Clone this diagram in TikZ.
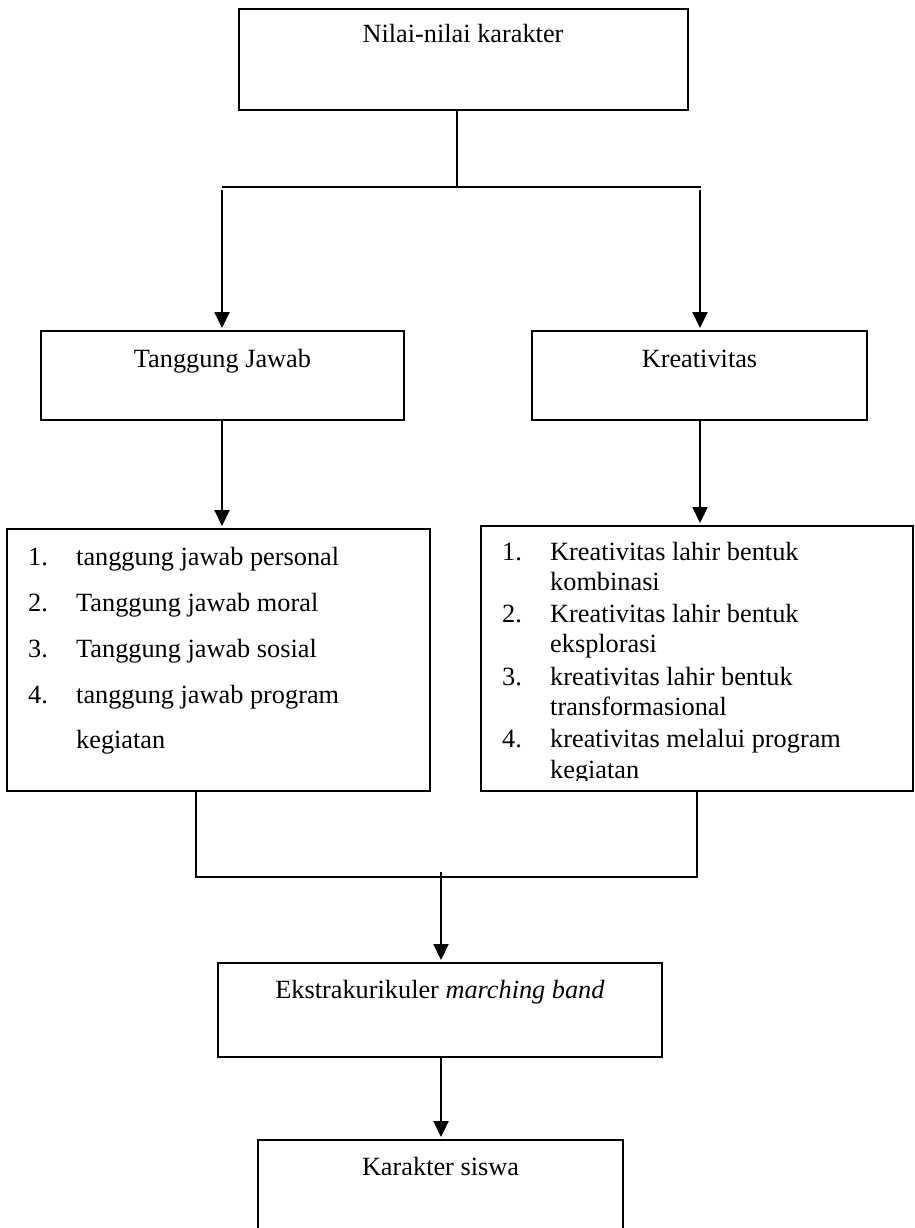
\documentclass[tikz,border=0pt]{standalone}
\usepackage{fontspec}
\setmainfont{Liberation Serif}
\usetikzlibrary{arrows.meta}
\begin{document}
\begin{tikzpicture}[x=1pt,y=-1pt,
  box/.style={draw,line width=2pt,inner sep=0pt,outer sep=0pt},
  txt/.style={inner sep=0pt,anchor=base,font=\fontsize{26.3}{30}\selectfont},
  ltxt/.style={txt,anchor=base west},
  conn/.style={line width=1.8pt},
  arr/.style={line width=2.2pt,-{Triangle[length=16pt,width=15pt]},shorten >=3pt}]
\useasboundingbox (0,0) rectangle (914,1228);
\fill[white] (0,0) rectangle (914,1228);

% boxes
\node[box,minimum width=449pt,minimum height=101pt] (top) at (463.5,59.5) {};
\node[box,minimum width=363pt,minimum height=89pt] (tj) at (222.5,375.5) {};
\node[box,minimum width=335pt,minimum height=89pt] (kr) at (699.5,375.5) {};
\node[box,minimum width=423pt,minimum height=262pt] (ll) at (218.5,660) {};
\node[box,minimum width=432pt,minimum height=265pt] (rl) at (697,658.5) {};
\node[box,minimum width=444pt,minimum height=94pt] (ek) at (440,1010) {};
\node[box,minimum width=365pt,minimum height=130pt] (ks) at (440.5,1205) {};

% box titles
\node[txt] (toptxt) at (463,43) {Nilai-nilai karakter};
\node[txt] (tjtxt) at (222.5,367) {Tanggung Jawab};
\node[txt] (krtxt) at (699.5,367) {Kreativitas};
\node[txt] (ektxt) at (440,998) {Ekstrakurikuler \textit{marching band}};
\node[txt] (kstxt) at (440.5,1175) {Karakter siswa};

% left list
\node[ltxt] (ln1) at (28,565) {1.};
\node[ltxt] (lt1) at (76,565) {tanggung jawab personal};
\node[ltxt] (ln2) at (28,611) {2.};
\node[ltxt] (lt2) at (76,611) {Tanggung jawab moral};
\node[ltxt] (ln3) at (28,657) {3.};
\node[ltxt] (lt3) at (76,657) {Tanggung jawab sosial};
\node[ltxt] (ln4) at (28,703) {4.};
\node[ltxt] (lt4) at (76,703) {tanggung jawab program};
\node[ltxt] (lt4b) at (76,748) {kegiatan};

% right list (last line clipped by the box)
\begin{scope}
\clip (481,520) rectangle (913,780);
\node[ltxt] (rn1) at (502,560) {1.};
\node[ltxt] (rt1) at (550,560) {Kreativitas lahir bentuk};
\node[ltxt] (rt1b) at (550,590) {kombinasi};
\node[ltxt] (rn2) at (502,622) {2.};
\node[ltxt] (rt2) at (550,622) {Kreativitas lahir bentuk};
\node[ltxt] (rt2b) at (550,652) {eksplorasi};
\node[ltxt] (rn3) at (502,685) {3.};
\node[ltxt] (rt3) at (550,685) {kreativitas lahir bentuk};
\node[ltxt] (rt3b) at (550,715) {transformasional};
\node[ltxt] (rn4) at (502,747) {4.};
\node[ltxt] (rt4) at (550,747) {kreativitas melalui program};
\node[ltxt] (rt4b) at (550,778) {kegiatan};
\end{scope}

% connectors
\coordinate (j1) at (457,187);
\coordinate (hl) at (222,187);
\coordinate (hr) at (701,187);
\coordinate (al) at (222,190);
\coordinate (ar) at (700,190);
\draw[conn] (top.south -| j1) -- (j1);
\draw[conn] (hl) -- (hr);
\draw[arr] (al) -- (al |- tj.north);
\draw[arr] (ar) -- (ar |- kr.north);
\draw[arr] (tj.south -| al) -- (al |- ll.north);
\draw[arr] (kr.south -| ar) -- (ar |- rl.north);

\coordinate (bl) at (196,877);
\coordinate (br) at (697,877);
\draw[conn] (ll.south -| bl) -- (bl) -- (br) -- (rl.south -| br);
\coordinate (bm) at (441,872);
\draw[arr] (bm) -- (bm |- ek.north);
\draw[arr] (ek.south -| bm) -- (bm |- ks.north);
\end{tikzpicture}
\end{document}
